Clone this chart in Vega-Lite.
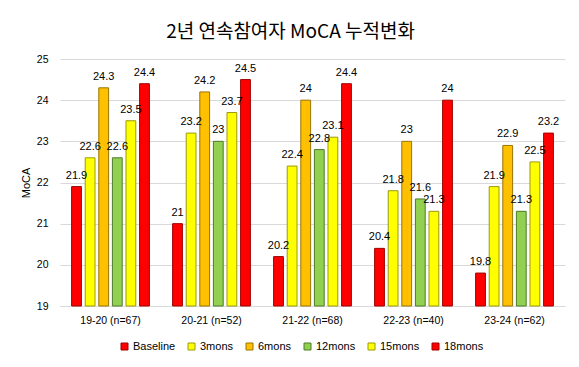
{
  "$schema": "https://vega.github.io/schema/vega-lite/v6.json",
  "width": 505,
  "height": 247,
  "autosize": {"type": "none"},
  "padding": {"left": 60, "top": 59, "right": 14, "bottom": 61},
  "background": "white",
  "title": {
    "text": "2년 연속참여자 MoCA 누적변화",
    "font": "Noto Sans CJK KR",
    "fontSize": 19,
    "fontWeight": "normal",
    "color": "#000000",
    "anchor": "middle",
    "dx": -22,
    "offset": 12
  },
  "config": {
    "view": {"stroke": null},
    "axis": {
      "labelFont": "Liberation Sans",
      "labelFontSize": 10.5,
      "labelColor": "#000000",
      "titleFont": "Liberation Sans",
      "titleFontSize": 11,
      "titleFontWeight": "normal",
      "titleColor": "#000000"
    }
  },
  "data": {
    "values": [
      {"group": "19-20 (n=67)", "series": "Baseline", "value": 21.9},
      {"group": "19-20 (n=67)", "series": "3mons", "value": 22.6},
      {"group": "19-20 (n=67)", "series": "6mons", "value": 24.3},
      {"group": "19-20 (n=67)", "series": "12mons", "value": 22.6},
      {"group": "19-20 (n=67)", "series": "15mons", "value": 23.5},
      {"group": "19-20 (n=67)", "series": "18mons", "value": 24.4},
      {"group": "20-21 (n=52)", "series": "Baseline", "value": 21},
      {"group": "20-21 (n=52)", "series": "3mons", "value": 23.2},
      {"group": "20-21 (n=52)", "series": "6mons", "value": 24.2},
      {"group": "20-21 (n=52)", "series": "12mons", "value": 23},
      {"group": "20-21 (n=52)", "series": "15mons", "value": 23.7},
      {"group": "20-21 (n=52)", "series": "18mons", "value": 24.5},
      {"group": "21-22 (n=68)", "series": "Baseline", "value": 20.2},
      {"group": "21-22 (n=68)", "series": "3mons", "value": 22.4},
      {"group": "21-22 (n=68)", "series": "6mons", "value": 24},
      {"group": "21-22 (n=68)", "series": "12mons", "value": 22.8},
      {"group": "21-22 (n=68)", "series": "15mons", "value": 23.1},
      {"group": "21-22 (n=68)", "series": "18mons", "value": 24.4},
      {"group": "22-23 (n=40)", "series": "Baseline", "value": 20.4},
      {"group": "22-23 (n=40)", "series": "3mons", "value": 21.8},
      {"group": "22-23 (n=40)", "series": "6mons", "value": 23},
      {"group": "22-23 (n=40)", "series": "12mons", "value": 21.6},
      {"group": "22-23 (n=40)", "series": "15mons", "value": 21.3},
      {"group": "22-23 (n=40)", "series": "18mons", "value": 24},
      {"group": "23-24 (n=62)", "series": "Baseline", "value": 19.8},
      {"group": "23-24 (n=62)", "series": "3mons", "value": 21.9},
      {"group": "23-24 (n=62)", "series": "6mons", "value": 22.9},
      {"group": "23-24 (n=62)", "series": "12mons", "value": 21.3},
      {"group": "23-24 (n=62)", "series": "15mons", "value": 22.5},
      {"group": "23-24 (n=62)", "series": "18mons", "value": 23.2}
    ]
  },
  "encoding": {
    "x": {
      "field": "group",
      "type": "nominal",
      "sort": null,
      "scale": {"paddingInner": 0.23, "paddingOuter": 0.115},
      "axis": {
        "title": null,
        "labelAngle": 0,
        "ticks": false,
        "tickSize": 0,
        "labelPadding": 9,
        "domain": true,
        "domainColor": "#D9D9D9",
        "grid": false
      }
    },
    "xOffset": {
      "field": "series",
      "type": "nominal",
      "sort": ["Baseline", "3mons", "6mons", "12mons", "15mons", "18mons"],
      "scale": {"paddingInner": 0.28, "paddingOuter": 0}
    },
    "y": {
      "field": "value",
      "type": "quantitative",
      "scale": {"domain": [19, 25], "nice": false, "zero": false},
      "axis": {
        "title": "MoCA",
        "values": [19, 20, 21, 22, 23, 24, 25],
        "grid": true,
        "gridColor": "#D9D9D9",
        "domain": false,
        "ticks": false,
        "tickSize": 0,
        "labelPadding": 12,
        "titlePadding": 5
      }
    }
  },
  "layer": [
    {
      "mark": {"type": "bar", "strokeWidth": 1},
      "encoding": {
        "y2": {"datum": 19},
        "fill": {
          "field": "series",
          "type": "nominal",
          "scale": {
            "domain": ["Baseline", "3mons", "6mons", "12mons", "15mons", "18mons"],
            "range": ["#FF0000", "#FFFF00", "#FFC000", "#92D050", "#FFFF00", "#FF0000"]
          },
          "legend": {
            "title": null,
            "orient": "none",
            "direction": "horizontal",
            "columns": 6,
            "legendX": 59,
            "legendY": 282,
            "symbolType": "square",
            "symbolSize": 49,
            "symbolStrokeWidth": 1,
            "symbolStrokeColor": "#7A5A30",
            "labelFont": "Liberation Sans",
            "labelFontSize": 11,
            "labelFontWeight": "normal",
            "labelColor": "#000000",
            "labelOffset": 3,
            "columnPadding": 10
          }
        },
        "stroke": {
          "field": "series",
          "type": "nominal",
          "scale": {
            "domain": ["Baseline", "3mons", "6mons", "12mons", "15mons", "18mons"],
            "range": ["#9E0000", "#9A9A10", "#9A7400", "#4F7A2A", "#9A9A10", "#9E0000"]
          },
          "legend": null
        }
      }
    },
    {
      "mark": {
        "type": "text",
        "baseline": "alphabetic",
        "dy": -8,
        "font": "Liberation Sans",
        "fontSize": 11,
        "color": "#000000"
      },
      "encoding": {
        "text": {"field": "value", "type": "quantitative"}
      }
    }
  ]
}
